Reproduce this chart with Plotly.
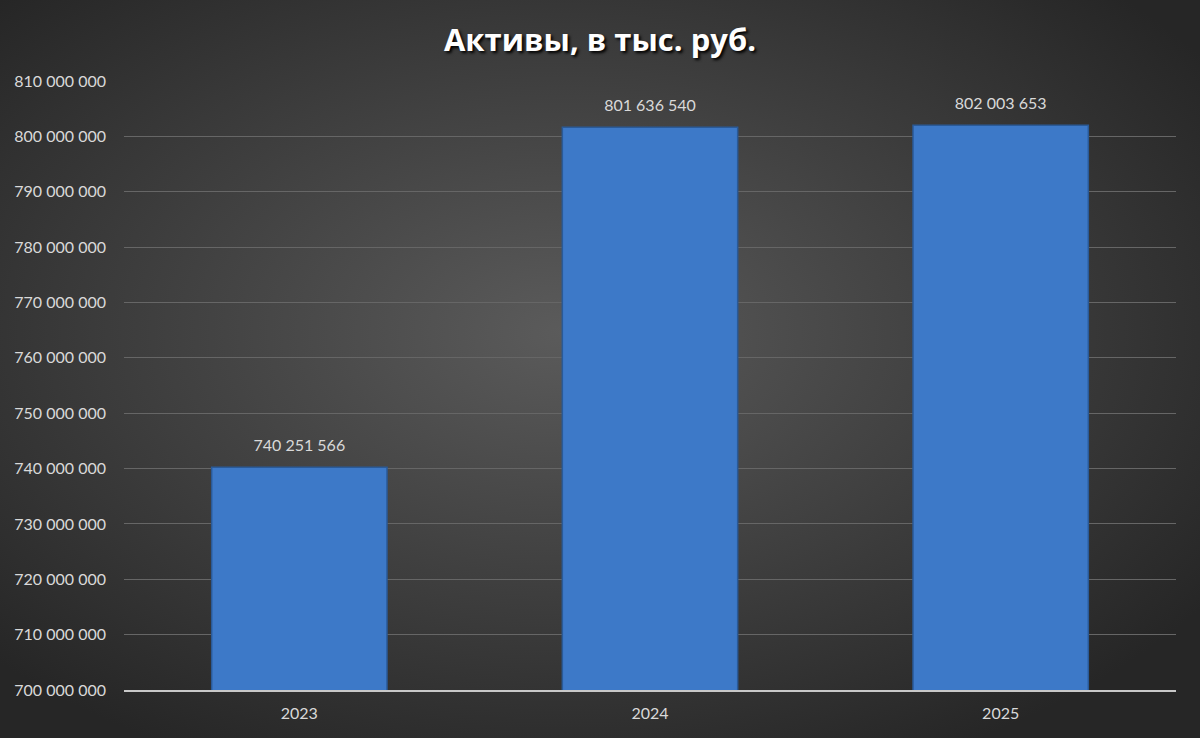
import base64
import plotly.graph_objects as go

# ── Data ─────────────────────────────────────────────
years = ["2023", "2024", "2025"]
assets = [740251566, 801636540, 802003653]
y_ticks = list(range(700000000, 810000001, 10000000))

TITLE = "Активы, в тыс. руб."

# ── Background: radial grey gradient (as an SVG image) ─
svg = """<svg xmlns='http://www.w3.org/2000/svg' width='1200' height='738'>
<defs><radialGradient id='g' cx='47%' cy='45%' r='65%'>
<stop offset='0%' stop-color='#5b5b5b'/>
<stop offset='100%' stop-color='#262626'/>
</radialGradient></defs>
<rect width='1200' height='738' fill='url(#g)'/></svg>"""
bg_src = "data:image/svg+xml;base64," + base64.b64encode(svg.encode()).decode()

W, H = 1200, 738
L, R, T, B = 124, 24, 81, 48
pw, ph = W - L - R, H - T - B

fig = go.Figure()

fig.add_trace(go.Bar(
    x=years,
    y=assets,
    marker=dict(color="#3d79c8", line=dict(color="#2a5a98", width=1.5)),
    hoverinfo="skip",
))

# data labels, floated a little above the bar tops
fig.add_trace(go.Scatter(
    x=years,
    y=assets,
    mode="markers+text",
    marker=dict(size=18, opacity=0),
    text=[f"{v:,}".replace(",", " ") for v in assets],
    textposition="top center",
    textfont=dict(family="Lato, sans-serif", size=16, color="#d9d9d9"),
    cliponaxis=False,
    hoverinfo="skip",
))

fig.add_layout_image(
    source=bg_src, xref="paper", yref="paper",
    x=-L / pw, y=1 + T / ph, sizex=W / pw, sizey=H / ph,
    xanchor="left", yanchor="top", sizing="stretch", layer="below",
)

fig.update_layout(
    width=W, height=H,
    separators=", ",
    paper_bgcolor="#262626",
    plot_bgcolor="rgba(0,0,0,0)",
    margin=dict(l=L, r=R, t=T, b=B),
    bargap=0.5,
    showlegend=False,
    font=dict(family="Lato, sans-serif", color="#d9d9d9", size=15),
    title=dict(
        text="<b>" + TITLE + "</b>", x=0.5, xanchor="center", y=0.946, yanchor="middle",
        font=dict(family="Open Sans, sans-serif", size=31, color="#ffffff",
                  shadow="2px 2px 3px #000000"),
    ),
    xaxis=dict(
        showgrid=False, showline=True, linecolor="#c8c8c8", linewidth=2,
        ticks="", ticklabelstandoff=8, tickfont=dict(size=16, color="#d9d9d9"),
    ),
    yaxis=dict(
        range=[700000000, 810000000],
        tickvals=y_ticks, tickformat=",d",
        showgrid=True, gridcolor="#666666", gridwidth=1,
        zeroline=False, showline=False,
        ticks="", ticklabelstandoff=17,
        tickfont=dict(size=16, color="#d9d9d9"),
    ),
)

fig.write_html("out.html", config={"displayModeBar": False},
               post_script="document.body.style.margin='0';")
